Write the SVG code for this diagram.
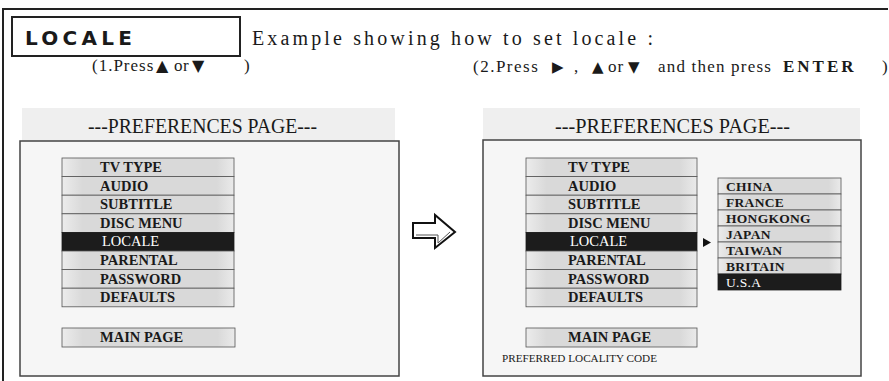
<svg xmlns="http://www.w3.org/2000/svg" width="889" height="381" viewBox="0 0 889 381">
<defs>
<linearGradient id="rowg" x1="0" y1="0" x2="1" y2="0">
<stop offset="0" stop-color="#ececec"/><stop offset="0.12" stop-color="#d9d9d9"/><stop offset="0.9" stop-color="#d9d9d9"/><stop offset="1" stop-color="#eaeaea"/>
</linearGradient>
<style>
.serif{font-family:"Liberation Serif","DejaVu Serif","Times New Roman",serif;fill:#1a1a1a}
.sym{font-family:"DejaVu Sans",sans-serif}
.frame{fill:none;stroke:#222;stroke-width:2}
.panel{fill:#f6f6f6;stroke:#444;stroke-width:1.5}
.band{fill:#efefef}
.row{fill:url(#rowg);stroke:#555;stroke-width:0.8}
.hl{fill:#1c1c1c;stroke:#1c1c1c;stroke-width:0.8}
.item{font-family:"Liberation Serif","DejaVu Serif","Times New Roman",serif;font-size:14.5px;font-weight:bold;fill:#1a1a1a}
.sitem{font-family:"Liberation Serif","DejaVu Serif","Times New Roman",serif;font-size:13.5px;font-weight:bold;fill:#1a1a1a;letter-spacing:0.3px}
.white{fill:#ffffff;font-weight:normal}
.head{font-family:"Liberation Serif","DejaVu Serif","Times New Roman",serif;font-size:20px;fill:#1a1a1a}
</style>
</defs>
<rect width="889" height="381" fill="#ffffff"/>
<g id="frame">
<polyline class="frame" points="3,381 3,9 888,9"/>
<rect x="12" y="17" width="228" height="39" class="frame"/>
<text x="25" y="45" font-family="DejaVu Sans, sans-serif" font-weight="bold" font-size="20" textLength="107" lengthAdjust="spacing" fill="#1a1a1a">LOCALE</text>
<text x="252" y="45" class="serif" font-size="20" textLength="401" lengthAdjust="spacing">Example showing how to set locale :</text>
</g>
<g id="step1-label">
<text y="71" class="serif" font-size="17"><tspan x="92" letter-spacing="1">(1.Press</tspan><tspan x="156" class="sym" font-size="16">▲</tspan><tspan x="174" letter-spacing="0.5">or</tspan><tspan x="192" class="sym" font-size="16">▼</tspan><tspan x="244">)</tspan></text>
</g>
<g id="step2-label">
<text y="72" class="serif" font-size="17"><tspan x="473" letter-spacing="1.5">(2.Press</tspan><tspan x="552" class="sym" font-size="15">▶</tspan><tspan x="574">,</tspan><tspan x="592" class="sym" font-size="15">▲</tspan><tspan x="608" letter-spacing="1">or</tspan><tspan x="628" class="sym" font-size="15">▼</tspan><tspan x="658" letter-spacing="1.2">and then press</tspan><tspan x="783" font-weight="bold" font-size="17" letter-spacing="3">ENTER</tspan><tspan x="882">)</tspan></text>
</g>
<g id="left-panel">
<rect x="22" y="108" width="373" height="33" class="band"/>
<rect x="20" y="141" width="379" height="235" class="panel"/>
<text x="88" y="133" class="head" textLength="229" lengthAdjust="spacingAndGlyphs">---PREFERENCES PAGE---</text>
<rect x="62" y="158" width="172" height="18.6" class="row"/>
<rect x="62" y="176.6" width="172" height="18.6" class="row"/>
<rect x="62" y="195.2" width="172" height="18.6" class="row"/>
<rect x="62" y="213.8" width="172" height="18.6" class="row"/>
<rect x="62" y="232.4" width="172" height="18.6" class="hl"/>
<rect x="62" y="251" width="172" height="18.6" class="row"/>
<rect x="62" y="269.6" width="172" height="18.6" class="row"/>
<rect x="62" y="288.2" width="172" height="18.6" class="row"/>
<rect x="62" y="328" width="173" height="19" class="row"/>
<text x="100" y="172" class="item">TV TYPE</text>
<text x="100" y="190.6" class="item">AUDIO</text>
<text x="100" y="209.2" class="item">SUBTITLE</text>
<text x="100" y="227.8" class="item">DISC MENU</text>
<text x="102" y="246.4" class="item white">LOCALE</text>
<text x="100" y="265" class="item">PARENTAL</text>
<text x="100" y="283.6" class="item">PASSWORD</text>
<text x="100" y="302.2" class="item">DEFAULTS</text>
<text x="100" y="342" class="item">MAIN PAGE</text>
</g>
<g id="connectors">
<polygon points="413,223 435,223 435,215 455,232 435,248 435,238 413,238" fill="#ffffff" stroke="#111" stroke-width="2" stroke-linejoin="miter"/>
<polyline points="416,235 438,235 438,243 450,232" fill="none" stroke="#555" stroke-width="1"/>
</g>
<g id="right-panel">
<rect x="483" y="108" width="377" height="32" class="band"/>
<rect x="483" y="140" width="378" height="236" class="panel"/>
<text x="555" y="133" class="head" textLength="235" lengthAdjust="spacingAndGlyphs">---PREFERENCES PAGE---</text>
<rect x="526" y="158" width="171" height="18.6" class="row"/>
<rect x="526" y="176.6" width="171" height="18.6" class="row"/>
<rect x="526" y="195.2" width="171" height="18.6" class="row"/>
<rect x="526" y="213.8" width="171" height="18.6" class="row"/>
<rect x="526" y="232.4" width="171" height="18.6" class="hl"/>
<rect x="526" y="251" width="171" height="18.6" class="row"/>
<rect x="526" y="269.6" width="171" height="18.6" class="row"/>
<rect x="526" y="288.2" width="171" height="18.6" class="row"/>
<rect x="526" y="328" width="171" height="19" class="row"/>
<text x="568" y="172" class="item">TV TYPE</text>
<text x="568" y="190.6" class="item">AUDIO</text>
<text x="568" y="209.2" class="item">SUBTITLE</text>
<text x="568" y="227.8" class="item">DISC MENU</text>
<text x="570" y="246.4" class="item white">LOCALE</text>
<text x="568" y="265" class="item">PARENTAL</text>
<text x="568" y="283.6" class="item">PASSWORD</text>
<text x="568" y="302.2" class="item">DEFAULTS</text>
<text x="568" y="342" class="item">MAIN PAGE</text>
<polygon points="703,238 711,242.5 703,247" fill="#111"/>
<text x="502" y="362" font-family="Liberation Serif, DejaVu Serif, serif" font-size="10" textLength="155" lengthAdjust="spacingAndGlyphs" fill="#1a1a1a">PREFERRED LOCALITY CODE</text>
</g>
<g id="locale-submenu">
<rect x="718" y="178" width="123" height="16" class="row"/>
<rect x="718" y="194" width="123" height="16" class="row"/>
<rect x="718" y="210" width="123" height="16" class="row"/>
<rect x="718" y="226" width="123" height="16" class="row"/>
<rect x="718" y="242" width="123" height="16" class="row"/>
<rect x="718" y="258" width="123" height="16" class="row"/>
<rect x="718" y="274" width="123" height="16" class="hl"/>
<text x="726" y="190.5" class="sitem">CHINA</text>
<text x="726" y="206.5" class="sitem">FRANCE</text>
<text x="726" y="222.5" class="sitem">HONGKONG</text>
<text x="726" y="238.5" class="sitem">JAPAN</text>
<text x="726" y="254.5" class="sitem">TAIWAN</text>
<text x="726" y="270.5" class="sitem">BRITAIN</text>
<text x="726" y="286.5" class="sitem white">U.S.A</text>
</g>
</svg>
